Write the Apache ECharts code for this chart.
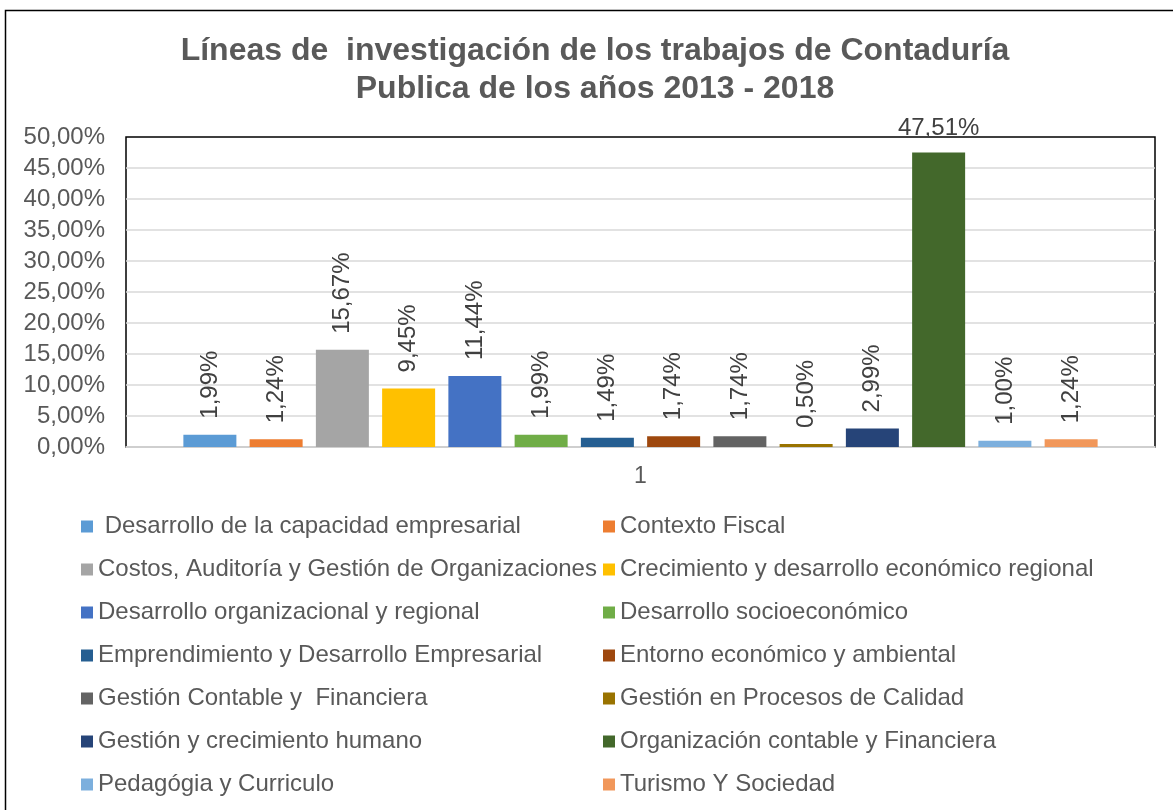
<!DOCTYPE html>
<html>
<head>
<meta charset="utf-8">
<script src="https://cdn.jsdelivr.net/npm/echarts@6/dist/echarts.min.js"></script>
<style>
html,body{margin:0;padding:0;background:#fff;}
#c{width:1173px;height:810px;}
</style>
</head>
<body>
<div id="c"></div>
<script>
const categories = ['1'];
const seriesNames = [
  ' Desarrollo de la capacidad empresarial',
  'Contexto Fiscal',
  'Costos, Auditoría y Gestión de Organizaciones',
  'Crecimiento y desarrollo económico regional',
  'Desarrollo organizacional y regional',
  'Desarrollo socioeconómico',
  'Emprendimiento y Desarrollo Empresarial',
  'Entorno económico y ambiental',
  'Gestión Contable y  Financiera',
  'Gestión en Procesos de Calidad',
  'Gestión y crecimiento humano',
  'Organización contable y Financiera',
  'Pedagógia y Curriculo',
  'Turismo Y Sociedad'
];
const seriesValues = [1.99, 1.24, 15.67, 9.45, 11.44, 1.99, 1.49, 1.74, 1.74, 0.50, 2.99, 47.51, 1.00, 1.24];
const seriesColors = ['#5B9BD5','#ED7D31','#A5A5A5','#FFC000','#4472C4','#70AD47','#255E91','#9E480E','#636363','#997300','#264478','#43682B','#7CAFDD','#F1975A'];
const yTicks = [0,5,10,15,20,25,30,35,40,45,50];
const titleLines = ['Líneas de  investigación de los trabajos de Contaduría', 'Publica de los años 2013 - 2018'];

const FONT = '"Liberation Sans", Arial, sans-serif';
const fmt = v => v.toFixed(2).replace('.', ',') + '%';

const series = seriesNames.map((name, i) => {
  const horizontal = seriesValues[i] > 40;
  return {
    name: name,
    type: 'bar',
    barWidth: 53,
    barGap: '25%',
    itemStyle: {color: seriesColors[i]},
    data: [seriesValues[i]],
    label: horizontal ? {
      show: true, position: 'top', distance: 12, rotate: 0,
      formatter: p => fmt(p.value), color: '#404040', fontSize: 24, fontFamily: FONT
    } : {
      show: true, position: 'top', distance: 16, rotate: 90,
      align: 'left', verticalAlign: 'middle',
      formatter: p => fmt(p.value), color: '#404040', fontSize: 24, fontFamily: FONT
    }
  };
});

const leftNames = seriesNames.filter((_, i) => i % 2 === 0);
const rightNames = seriesNames.filter((_, i) => i % 2 === 1);
const legendCommon = {
  orient: 'vertical', icon: 'rect', itemWidth: 12, itemHeight: 12, itemGap: 19,
  top: 509.5, selectedMode: false,
  textStyle: {color: '#595959', fontSize: 24, fontFamily: FONT, lineHeight: 24}
};

const chart = echarts.init(document.getElementById('c'));
chart.setOption({
  animation: false,
  textStyle: {fontFamily: FONT},
  graphic: [
    {type: 'rect', shape: {x: 5.5, y: 10.5, width: 1200, height: 900}, style: {fill: 'none', stroke: '#000', lineWidth: 1.5}, silent: true},
    {type: 'text', x: 595, y: 32, style: {text: titleLines.join('\n'), align: 'center', fill: '#595959', font: 'bold 32px "Liberation Sans", Arial, sans-serif', lineHeight: 38}}
  ],
  legend: [
    Object.assign({}, legendCommon, {left: 76, data: leftNames}),
    Object.assign({}, legendCommon, {left: 598, data: rightNames})
  ],
  grid: {left: 126, right: 18, top: 137, bottom: 363, show: true, borderColor: '#000', borderWidth: 1.5, backgroundColor: 'transparent'},
  xAxis: {
    type: 'category', data: categories,
    axisLine: {lineStyle: {color: '#D9D9D9', width: 1.5}},
    axisTick: {show: false},
    axisLabel: {color: '#595959', fontSize: 23, margin: 18, fontFamily: FONT}
  },
  yAxis: {
    type: 'value', min: yTicks[0], max: yTicks[yTicks.length - 1], interval: 5,
    axisLine: {show: false}, axisTick: {show: false},
    splitLine: {showMaxLine: false, lineStyle: {color: '#D9D9D9', width: 1.5}},
    axisLabel: {color: '#595959', fontSize: 24, margin: 21, fontFamily: FONT, formatter: v => fmt(v)}
  },
  series: series
});
</script>
</body>
</html>
